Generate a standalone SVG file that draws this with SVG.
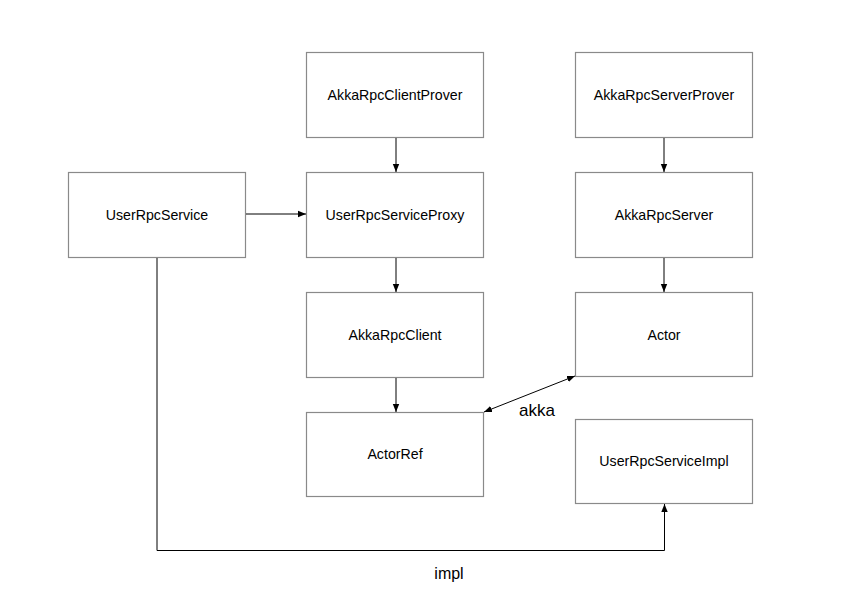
<svg xmlns="http://www.w3.org/2000/svg" width="860" height="613" viewBox="0 0 860 613">
<style>
.box{fill:#fff;stroke:#8a8a8a;stroke-width:1.2}
.lbl{font-family:"Liberation Sans",Arial,sans-serif;font-size:14.2px;fill:#000;text-anchor:middle;dominant-baseline:central}
.edge{fill:none;stroke:#000;stroke-width:1}
.elbl{font-family:"Liberation Sans",Arial,sans-serif;font-size:17px;fill:#000;text-anchor:middle;dominant-baseline:central}
</style>
<defs>
<marker id="ah" viewBox="0 0 10 10" refX="10" refY="5" markerWidth="8" markerHeight="8" markerUnits="userSpaceOnUse" orient="auto-start-reverse">
<path d="M0,1 L10,5 L0,9 Z" fill="#000"/>
</marker>
</defs>
<rect width="860" height="613" fill="#fff"/>
<g id="n-clientprover"><rect class="box" x="306.5" y="52.5" width="177" height="85"/><text class="lbl" x="395" y="95">AkkaRpcClientProver</text></g>
<g id="n-serverprover"><rect class="box" x="575.5" y="52.5" width="177" height="85"/><text class="lbl" x="664" y="95">AkkaRpcServerProver</text></g>
<g id="n-userrpcservice"><rect class="box" x="68.5" y="172.5" width="177" height="85"/><text class="lbl" x="157" y="215">UserRpcService</text></g>
<g id="n-proxy"><rect class="box" x="306.5" y="172.5" width="177" height="85"/><text class="lbl" x="395" y="215">UserRpcServiceProxy</text></g>
<g id="n-server"><rect class="box" x="575.5" y="172.5" width="177" height="85"/><text class="lbl" x="664" y="215">AkkaRpcServer</text></g>
<g id="n-client"><rect class="box" x="306.5" y="292.5" width="177" height="85"/><text class="lbl" x="395" y="335">AkkaRpcClient</text></g>
<g id="n-actor"><rect class="box" x="575.5" y="292.5" width="177" height="84"/><text class="lbl" x="664" y="335">Actor</text></g>
<g id="n-actorref"><rect class="box" x="306.5" y="412.5" width="177" height="84"/><text class="lbl" x="395" y="454">ActorRef</text></g>
<g id="n-impl"><rect class="box" x="575.5" y="419.5" width="177" height="84"/><text class="lbl" x="664" y="461">UserRpcServiceImpl</text></g>
<g id="connectors">
<line class="edge" x1="396" y1="138" x2="396" y2="172" marker-end="url(#ah)"/>
<line class="edge" x1="664" y1="138" x2="664" y2="172" marker-end="url(#ah)"/>
<line class="edge" x1="246" y1="214" x2="306" y2="214" marker-end="url(#ah)"/>
<line class="edge" x1="396" y1="258" x2="396" y2="292" marker-end="url(#ah)"/>
<line class="edge" x1="664" y1="258" x2="664" y2="292" marker-end="url(#ah)"/>
<line class="edge" x1="396" y1="378" x2="396" y2="412" marker-end="url(#ah)"/>
<line class="edge" x1="484" y1="412" x2="575" y2="376" marker-start="url(#ah)" marker-end="url(#ah)"/>
<text class="elbl" x="537" y="410">akka</text>
<polyline class="edge" points="157,258 157,550.5 664.5,550.5 664.5,504" marker-end="url(#ah)"/>
<text class="elbl" x="449" y="573" style="font-size:16px">impl</text>
</g>
</svg>
